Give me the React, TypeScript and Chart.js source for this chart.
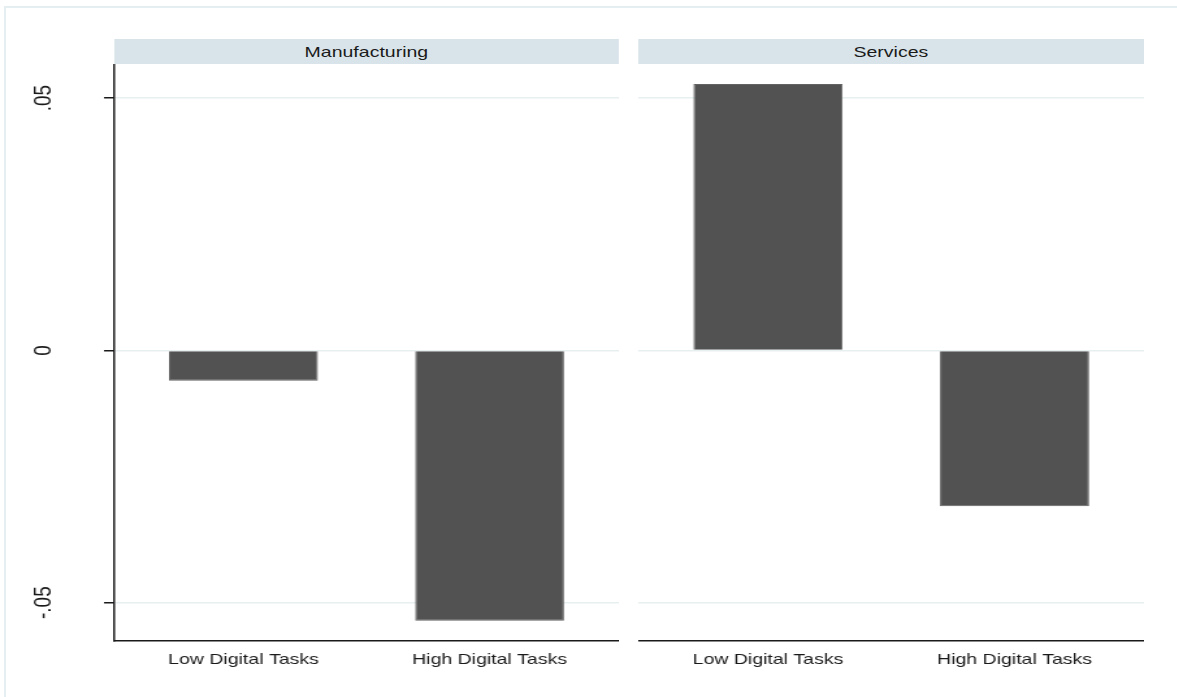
import React, { useEffect, useRef } from 'react';
import { Chart, registerables } from 'chart.js';

Chart.register(...registerables);

// ---- data ----
const panelTitles = ['Manufacturing', 'Services'];
const categories = ['Low Digital Tasks', 'High Digital Tasks'];
const categoryPositions = [1, 2];
const manufacturingValues = [-0.006, -0.0536];
const servicesValues = [0.0528, -0.0309];
const yTickValues = [-0.05, 0, 0.05];
const yTickLabels = ['-.05', '0', '.05'];
const yMin = -0.0576;
const yMax = 0.0567;
const xMin = 0.474;
const xMax = 2.525;

// ---- layout / style ----
const STRETCH = 1.3;
const FONT = 'Arial, "Liberation Sans", Helvetica, sans-serif';
const TEXT = '#1a1a1a';
const PLOT_TOP = 64.3;
const PLOT_BOTTOM = 641;
const H = 697;
const LEFT_AXIS_W = 87.7;
const LEFT_CANVAS_W = 476;
const RIGHT_LEFT = 490.8;
const RIGHT_CANVAS_W = 389;

type PanelProps = {
  values: number[];
  showYAxis: boolean;
  left: number;
  width: number;
};

function Panel({ values, showYAxis, left, width }: PanelProps) {
  const ref = useRef<HTMLCanvasElement | null>(null);
  useEffect(() => {
    if (!ref.current) return;
    const yAxisWidth = showYAxis ? LEFT_AXIS_W : 0;
    const chart = new Chart(ref.current, {
      type: 'bar',
      data: {
        datasets: [
          {
            data: categoryPositions.map((x, i) => ({ x, y: values[i] })),
            backgroundColor: '#525252',
            borderColor: '#636363',
            borderWidth: 1,
            barPercentage: 0.605,
            categoryPercentage: 1,
          } as any,
        ],
      },
      options: {
        animation: false,
        responsive: false,
        devicePixelRatio: 1,
        layout: { padding: { top: PLOT_TOP, left: 0, right: 0, bottom: 0 } },
        plugins: {
          legend: { display: false },
          tooltip: { enabled: false },
          title: { display: false },
        },
        scales: {
          x: {
            type: 'linear',
            min: xMin,
            max: xMax,
            bounds: 'data',
            offset: false,
            afterBuildTicks: (s: any) => {
              s.ticks = categoryPositions.map((v) => ({ value: v }));
            },
            afterFit: (s: any) => {
              s.height = H - PLOT_BOTTOM;
            },
            grid: { display: false, drawTicks: false },
            border: { display: true, color: TEXT, width: 1.5 },
            ticks: {
              callback: (_v: any, i: number) => categories[i],
              font: { family: FONT, size: 15 },
              color: TEXT,
              padding: 9.5,
              maxRotation: 0,
              minRotation: 0,
              autoSkip: false,
            },
          },
          y: {
            type: 'linear',
            min: yMin,
            max: yMax,
            bounds: 'data',
            afterBuildTicks: (s: any) => {
              s.ticks = yTickValues.map((v) => ({ value: v }));
            },
            afterFit: (s: any) => {
              s.width = yAxisWidth;
            },
            grid: {
              color: '#e8eff1',
              lineWidth: 1.5,
              drawTicks: showYAxis,
              tickLength: 7.7,
              tickColor: TEXT,
              tickWidth: 1.5,
            },
            border: { display: showYAxis, color: TEXT, width: 1.5 },
            ticks: {
              display: showYAxis,
              callback: (_v: any, i: number) => yTickLabels[i],
              minRotation: 90,
              maxRotation: 90,
              crossAlign: 'center',
              padding: 29.8,
              font: { family: FONT, size: 19 },
              color: TEXT,
            },
          },
        },
      } as any,
    });
    return () => chart.destroy();
  }, []);
  return (
    <canvas
      ref={ref}
      width={width}
      height={H}
      style={{ position: 'absolute', left, top: 0, width, height: H }}
    />
  );
}

function Strip({ title, left, width }: { title: string; left: number; width: number }) {
  return (
    <div
      style={{
        position: 'absolute',
        left,
        top: 39.3,
        width,
        height: 25,
        background: '#d9e4ea',
        color: TEXT,
        fontFamily: FONT,
        fontSize: 15,
        lineHeight: '25px',
        textAlign: 'center',
        whiteSpace: 'nowrap',
      }}
    >
      {title}
    </div>
  );
}

export default function App() {
  return (
    <div
      style={{
        position: 'fixed',
        left: 0,
        top: 0,
        width: 1177,
        height: 697,
        background: '#ffffff',
        overflow: 'hidden',
      }}
    >
      <div
        style={{
          position: 'absolute',
          left: 4,
          top: 6,
          width: 1200,
          height: 720,
          borderTop: '2px solid #e5eef0',
          borderLeft: '2px solid #e5eef0',
        }}
      />
      <div
        style={{
          position: 'absolute',
          left: 0,
          top: 0,
          width: 1177 / STRETCH,
          height: H,
          transform: `scaleX(${STRETCH})`,
          transformOrigin: '0 0',
        }}
      >
        <Strip title={panelTitles[0]} left={LEFT_AXIS_W} width={LEFT_CANVAS_W - LEFT_AXIS_W} />
        <Strip title={panelTitles[1]} left={RIGHT_LEFT} width={RIGHT_CANVAS_W} />
        <Panel values={manufacturingValues} showYAxis={true} left={0} width={LEFT_CANVAS_W} />
        <Panel values={servicesValues} showYAxis={false} left={RIGHT_LEFT} width={RIGHT_CANVAS_W} />
      </div>
    </div>
  );
}
